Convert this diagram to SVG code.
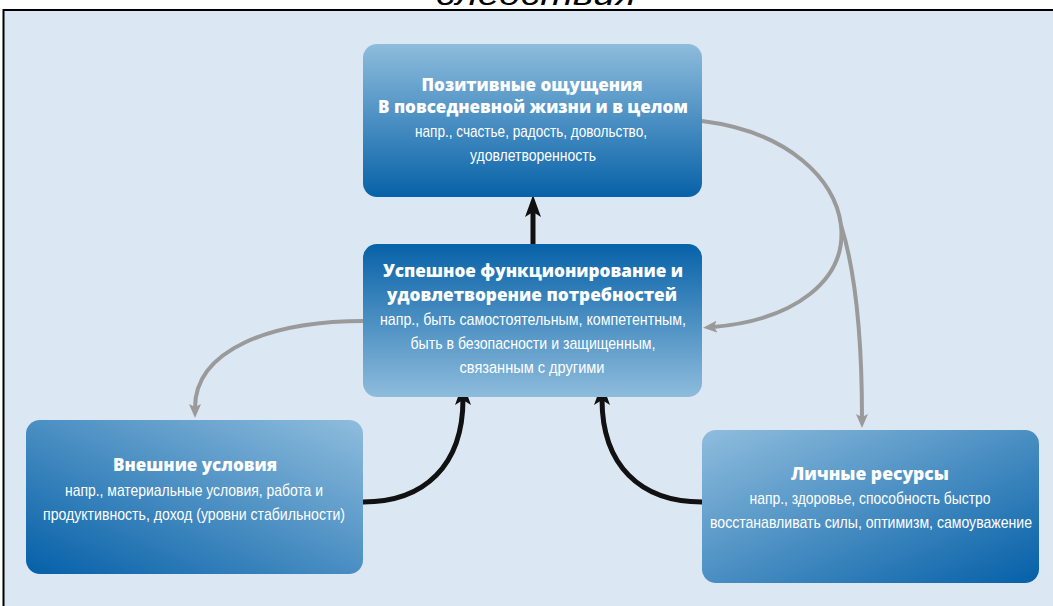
<svg xmlns="http://www.w3.org/2000/svg" width="1053" height="606" viewBox="0 0 1053 606">
  <defs>
    <linearGradient id="gDown" x1="0" y1="0" x2="0" y2="1">
      <stop offset="0" stop-color="#8ebcdc"/>
      <stop offset="1" stop-color="#0762a8"/>
    </linearGradient>
    <linearGradient id="gUp" x1="0" y1="0" x2="0" y2="1">
      <stop offset="0" stop-color="#0762a8"/>
      <stop offset="1" stop-color="#8ebcdc"/>
    </linearGradient>
    <linearGradient id="gBL" x1="0" y1="1" x2="1" y2="0">
      <stop offset="0" stop-color="#0560a8"/>
      <stop offset="1" stop-color="#8fbddd"/>
    </linearGradient>
    <linearGradient id="gBR" x1="0" y1="0" x2="1" y2="1">
      <stop offset="0" stop-color="#8fbddd"/>
      <stop offset="1" stop-color="#0560a8"/>
    </linearGradient>
    <marker id="mBlack" viewBox="0 0 22 16" refX="6" refY="8" markerWidth="22" markerHeight="16" markerUnits="userSpaceOnUse" orient="auto">
      <path d="M0,0 L22,8 L0,16 L5,8 Z" fill="#111"/>
    </marker>
    <marker id="mGray" viewBox="0 0 14 12" refX="4" refY="6" markerWidth="14" markerHeight="12" markerUnits="userSpaceOnUse" orient="auto">
      <path d="M0,0 L14,6 L0,12 L3,6 Z" fill="#9a9a9a"/>
    </marker>
  </defs>
  <style>
    .box { stroke: none; }
    .t { font-family: "Open Sans", "DejaVu Sans", sans-serif; font-weight: 800; font-size: 17px; fill: #ffffff; text-anchor: middle; }
    .s { font-family: "Liberation Sans Narrow", "Liberation Sans", sans-serif; font-size: 17px; fill: #ffffff; text-anchor: middle; }
    .blk { fill: none; stroke: #111; stroke-width: 5; }
    .gry { fill: none; stroke: #9a9a9a; stroke-width: 4; }
  </style>

  <rect x="3.5" y="10" width="1070" height="620" fill="#dbe8f3" stroke="#000" stroke-width="2"/>
  <text x="536" y="5" font-family="Liberation Sans, sans-serif" font-style="italic" font-size="30" text-anchor="middle" textLength="200" lengthAdjust="spacingAndGlyphs" fill="#000">следствия</text>

  <g id="connectors">
    <path class="blk" d="M533 244 L533 211" marker-end="url(#mBlack)"/>
    <path class="blk" d="M363 502 C425 502 463 465 463 399" marker-end="url(#mBlack)"/>
    <path class="blk" d="M702 502 C640 502 602 465 602 399" marker-end="url(#mBlack)"/>
    <path class="gry" d="M364 321 C270 321 195 350 195 408" marker-end="url(#mGray)"/>
    <path class="gry" d="M702 121 C790 132 835 180 841 225 C847 280 795 320 713 327" marker-end="url(#mGray)"/>
    <path class="gry" d="M841 225 C855 270 862 330 862 418" marker-end="url(#mGray)"/>
  </g>

  <g id="node-positive">
    <rect class="box" x="363" y="44" width="339" height="153" rx="14" fill="url(#gDown)"/>
    <text class="t" x="532" y="91" textLength="221" lengthAdjust="spacingAndGlyphs">Позитивные ощущения</text>
    <text class="t" x="533" y="113" textLength="310" lengthAdjust="spacingAndGlyphs">В повседневной жизни и в целом</text>
    <text class="s" x="531" y="137" textLength="232" lengthAdjust="spacingAndGlyphs">напр., счастье, радость, довольство,</text>
    <text class="s" x="533" y="161" textLength="126" lengthAdjust="spacingAndGlyphs">удовлетворенность</text>
  </g>

  <g id="node-functioning">
    <rect class="box" x="363" y="244" width="339" height="153" rx="14" fill="url(#gUp)"/>
    <text class="t" x="533" y="277" textLength="300" lengthAdjust="spacingAndGlyphs">Успешное функционирование и</text>
    <text class="t" x="532" y="301" textLength="290" lengthAdjust="spacingAndGlyphs">удовлетворение потребностей</text>
    <text class="s" x="533" y="325" textLength="306" lengthAdjust="spacingAndGlyphs">напр., быть самостоятельным, компетентным,</text>
    <text class="s" x="533" y="349" textLength="245" lengthAdjust="spacingAndGlyphs">быть в безопасности и защищенным,</text>
    <text class="s" x="532" y="373" textLength="145" lengthAdjust="spacingAndGlyphs">связанным с другими</text>
  </g>

  <g id="node-external">
    <rect class="box" x="26" y="420" width="337" height="154" rx="14" fill="url(#gBL)"/>
    <text class="t" x="195" y="471" textLength="164" lengthAdjust="spacingAndGlyphs">Внешние условия</text>
    <text class="s" x="194" y="496" textLength="258" lengthAdjust="spacingAndGlyphs">напр., материальные условия, работа и</text>
    <text class="s" x="194" y="520" textLength="302" lengthAdjust="spacingAndGlyphs">продуктивность, доход (уровни стабильности)</text>
  </g>

  <g id="node-personal">
    <rect class="box" x="702" y="430" width="337" height="153" rx="14" fill="url(#gBR)"/>
    <text class="t" x="870" y="480" textLength="158" lengthAdjust="spacingAndGlyphs">Личные ресурсы</text>
    <text class="s" x="870" y="504" textLength="241" lengthAdjust="spacingAndGlyphs">напр., здоровье, способность быстро</text>
    <text class="s" x="871" y="528" textLength="322" lengthAdjust="spacingAndGlyphs">восстанавливать силы, оптимизм, самоуважение</text>
  </g>
</svg>
